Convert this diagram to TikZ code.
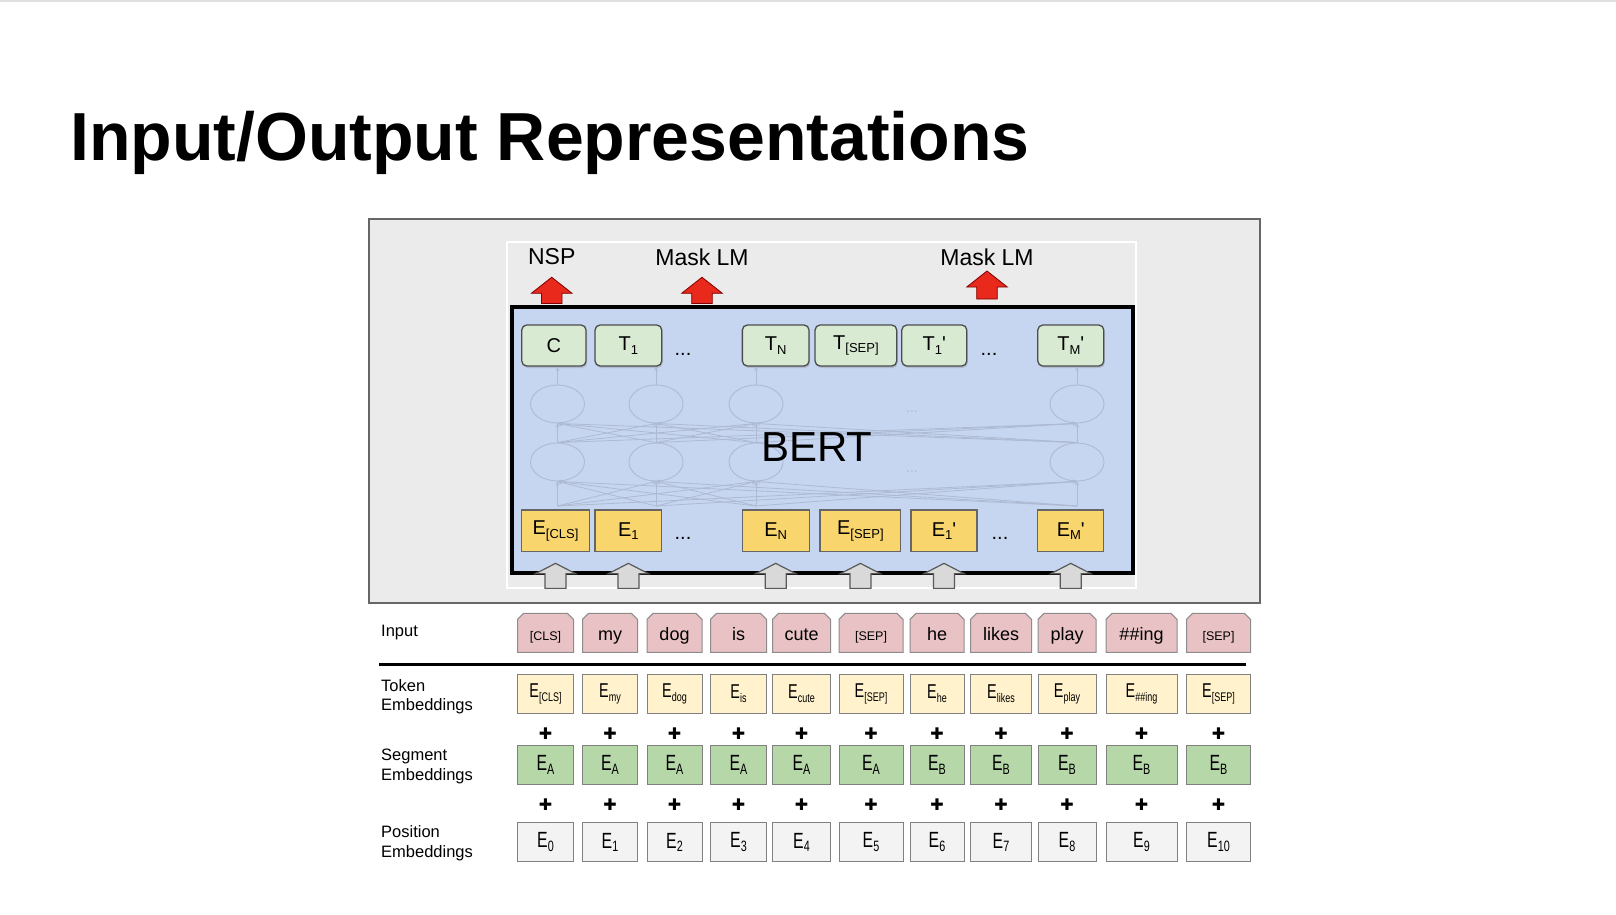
\documentclass[tikz,border=0pt]{standalone}
\usepackage{fontspec}
\setmainfont{Liberation Sans}
\newfontfamily\dejavu{DejaVu Sans}
\usepackage{graphicx}
\usetikzlibrary{shapes.geometric,shapes.misc,shadows}

\definecolor{panelgray}{HTML}{EBEBEB}
\definecolor{bertblue}{HTML}{C6D6F1}
\definecolor{outgreen}{HTML}{D9EAD3}
\definecolor{embyellow}{HTML}{F9D56E}
\definecolor{tokyellow}{HTML}{FFF2CC}
\definecolor{seggreen}{HTML}{B6D7A8}
\definecolor{posgray}{HTML}{F3F3F3}
\definecolor{inpink}{HTML}{E8C2C4}
\definecolor{redarrow}{HTML}{E8291C}
\definecolor{netgray}{HTML}{AEBAD2}

\newcommand\fs[1]{\fontsize{#1}{#1}\selectfont}
\newcommand\lowsub[2][13]{\raisebox{-3.5pt}{\fs{#1}#2}}
\newcommand\emb[3]{\scalebox{0.72}[1]{\fs{#1}E\lowsub[#2]{#3}}}
\newcommand\prm{\textquotesingle}

\begin{document}
\begin{tikzpicture}[x=1pt,y=-1pt,
  every node/.style={inner sep=0},
  outbox/.style={draw=black!70,fill=outgreen,line width=1.3,rounded corners=5,
    minimum height=41,font=\fs{20},
    drop shadow={opacity=0.3,shadow xshift=1pt,shadow yshift=-2pt}},
  embbox/.style={draw=black!60,fill=embyellow,line width=1.2,minimum height=41.7,font=\fs{20}},
  netcirc/.style={ellipse,draw=netgray,line width=0.9,minimum width=54,minimum height=38},
  netarrow/.style={draw=netgray,line width=0.8,->,>=stealth},
  redup/.style={fill=redarrow,draw=red!50!black,line width=0.8},
  grayup/.style={fill=black!15,draw=black!65,line width=1.2},
  intok/.style={chamfered rectangle,chamfered rectangle corners={north west,north east},
    chamfered rectangle xsep=3pt,chamfered rectangle ysep=3pt,
    draw=black!45,fill=inpink,line width=1,minimum height=39,text height=16pt,text depth=0pt,font=\fs{18}},
  rowbox/.style={draw=black!50,line width=1,minimum height=39.3},
  plussign/.style={font=\dejavu\fs{16}},
  rowlabel/.style={font=\fontsize{16.5}{19.5}\selectfont,align=left,anchor=north west}]
\useasboundingbox (0,0) rectangle (1616,914);
\fill[white] (0,0) rectangle (1616,914);
\draw[black!12,line width=2] (0,1) -- (1616,1);

% title
\node[anchor=base west,font=\fs{68}\bfseries] (title) at (70,160) {Input/Output Representations};

% figure panel
\draw[draw=black!60,fill=panelgray,line width=1.2] (369,219) rectangle (1260,603);
\draw[white,line width=1.2] (507,242) rectangle (1136,588);

% task labels and red arrows
\node[font=\fs{23}] (nsp) at (551.7,257) {NSP};
\node[font=\fs{23}] (mlma) at (702,257) {Mask LM};
\node[font=\fs{23}] (mlmb) at (987,257) {Mask LM};
\node[draw,line width=3.5,fill=bertblue,minimum width=621,minimum height=266] (bert) at (822.4,440) {};
\foreach \n in {nsp,mlma}
  \draw[redup] (\n.south |- bert.north) ++(-10.3,-1.7) -- ++(0,-10.3) -- ++(-10,0) -- ++(20.3,-16)
    -- ++(20.3,16) -- ++(-10,0) -- ++(0,10.3) -- cycle;
\coordinate (mlmbase) at (987,299);
\draw[redup] (mlmbase) ++(-10.3,0) -- ++(0,-12) -- ++(-10,0) -- ++(20.3,-16)
  -- ++(20.3,16) -- ++(-10,0) -- ++(0,12) -- cycle;

% faint network inside BERT
\foreach \cx [count=\c] in {557.5,656,756,1077} {
  \node[netcirc] (up\c) at (\cx,404) {};
  \node[netcirc] (lo\c) at (\cx,462) {};
  \coordinate (nb\c) at (\cx,506);
  \coordinate (nt\c) at (\cx,367);
}
\foreach \a in {1,...,4}
  \foreach \b in {1,...,4} {
    \draw[netarrow] (nb\a) -- (lo\b.south);
    \draw[netarrow] (lo\a.north) -- (up\b.south);
  }
\foreach \c in {1,...,4}
  \draw[netarrow] (up\c.north) -- (nt\c);
\node[text=netgray,font=\fs{14}] (ndotsa) at (912,412) {...};
\node[text=netgray,font=\fs{14}] (ndotsb) at (912,472) {...};
\node[font=\fs{42}] (berttxt) at (817,447) {BERT};

% output tokens
\node[outbox,minimum width=64.3] (tc) at (553.9,345.5) {C};
\node[outbox,minimum width=66.7] (tone) at (628.4,345.5) {T\lowsub{1}};
\node[font=\fs{20}] (tdotsa) at (683,354) {...};
\node[outbox,minimum width=66.7] (tn) at (775.7,345.5) {T\lowsub{N}};
\node[outbox,minimum width=81.7] (tsep) at (855.9,345.5) {T\lowsub{[SEP]}};
\node[outbox,minimum width=65] (tonep) at (934.3,345.5) {T\lowsub{1}\prm};
\node[font=\fs{20}] (tdotsb) at (989,354) {...};
\node[outbox,minimum width=66] (tmp) at (1070.8,345.5) {T\lowsub{M}\prm};

% input embeddings
\node[embbox,minimum width=67.6] (ecls) at (555.5,530.9) {E\lowsub{[CLS]}};
\node[embbox,minimum width=66.7] (eone) at (628.4,530.9) {E\lowsub{1}};
\node[font=\fs{20}] (edotsa) at (683,538) {...};
\node[embbox,minimum width=67] (en) at (775.7,530.9) {E\lowsub{N}};
\node[embbox,minimum width=80.7] (esep) at (860.4,530.9) {E\lowsub{[SEP]}};
\node[embbox,minimum width=66] (eonep) at (944,530.9) {E\lowsub{1}\prm};
\node[font=\fs{20}] (edotsb) at (1000,538) {...};
\node[embbox,minimum width=66] (emp) at (1070.8,530.9) {E\lowsub{M}\prm};
\foreach \n in {ecls,eone,en,esep,eonep,emp}
  \draw[grayup] (\n.south) ++(0,11) -- ++(20,10.3) -- ++(-9.5,0) -- ++(0,14.7)
    -- ++(-21,0) -- ++(0,-14.7) -- ++(-9.5,0) -- cycle;

% row labels
\node[anchor=base west,font=\fs{16.5}] (lblin) at (381,636) {Input};
\node[rowlabel] (lbltok) at (381,679) {Token\\Embeddings};
\node[rowlabel] (lblseg) at (381,749) {Segment\\Embeddings};
\node[rowlabel] (lblpos) at (381,825.5) {Position\\Embeddings};
\coordinate (sepl) at (379,664.5);
\coordinate (sepr) at (1246,664.5);
\draw[line width=2.8] (sepl) -- (sepr);

% input sequence and its three embeddings
\foreach \cx/\cw/\word/\sub [count=\k from 0] in {
  545.5/56/{\fs{12.5}[CLS]}/{[CLS]},
  610/55/my/my,
  674.5/55/dog/dog,
  738.5/56/is/is,
  801.5/58/cute/cute,
  871/64/{\fs{12.5}[SEP]}/{[SEP]},
  937/54/he/he,
  1001/61/likes/likes,
  1067/58/play/play,
  1141.5/71/\#\#ing/\#\#ing,
  1218.5/64/{\fs{12.5}[SEP]}/{[SEP]}} {
  \node[intok,minimum width=\cw] (tok\k) at (\cx,632.8) {\word};
  \node[rowbox,fill=tokyellow,minimum width=\cw] (temb\k) at (\cx,693.7) {\emb{20}{12.5}{\sub}};
  \node[plussign] (plusa\k) at (\cx,733.3) {✚};
  \node[rowbox,fill=seggreen,minimum width=\cw] (semb\k) at (\cx,764.7) {\emb{22}{15}{\ifnum\k<6 A\else B\fi}};
  \node[plussign] (plusb\k) at (\cx,804.3) {✚};
  \node[rowbox,fill=posgray,minimum width=\cw] (pemb\k) at (\cx,842.2) {\emb{22}{15}{\k}};
}
\end{tikzpicture}
\end{document}
